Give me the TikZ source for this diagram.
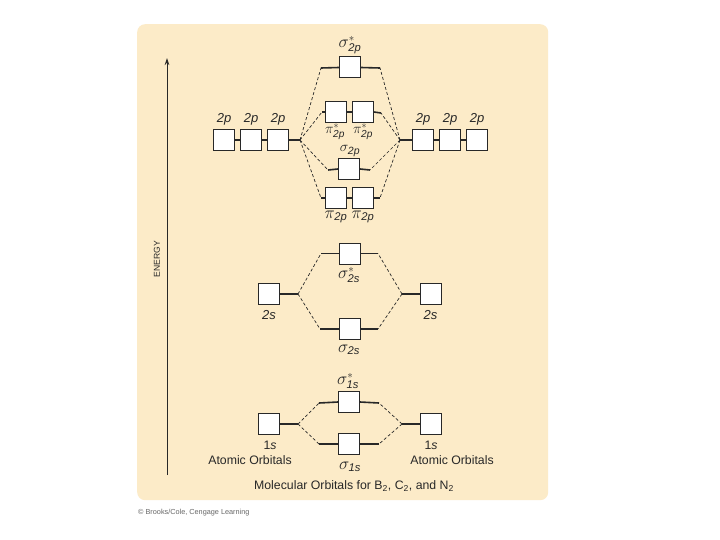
\documentclass[tikz,border=0pt]{standalone}
\usepackage{fontspec}
\usepackage{amsmath}
\setmainfont{Liberation Sans}
\usetikzlibrary{arrows.meta}
\definecolor{panel}{RGB}{252,235,200}
\definecolor{ink}{RGB}{40,40,40}
\newcommand{\sps}[1]{\text{\itshape #1}}
\begin{document}
\begin{tikzpicture}[x=1pt,y=-1pt,
  obox/.style={draw=ink, fill=white, line width=1pt, minimum size=21pt, inner sep=0pt},
  lvl/.style={draw=ink, line width=1.6pt},
  dsh/.style={draw=ink, line width=0.7pt, dash pattern=on 3pt off 2.2pt},
  lbl/.style={font=\fontsize{13}{14}\selectfont\itshape, text=ink, inner sep=0pt},
  mo/.style={font=\fontsize{16}{17}\selectfont, text=ink, inner sep=0pt},
  txt/.style={font=\fontsize{12.3}{13}\selectfont, text=ink, inner sep=0pt}]
\useasboundingbox (0,0) rectangle (720,540);
\fill[white] (0,0) rectangle (720,540);
\node[fill=panel, rounded corners=8pt, minimum width=411pt, minimum height=476pt, inner sep=0pt, anchor=north west] (panel) at (137,24) {};

% energy axis
\coordinate (abot) at (167,475);
\coordinate (atop) at (167,58);
\draw[ink, line width=0.8pt, -{Stealth[length=7pt,width=4.5pt]}] (abot) -- (atop);
\node[font=\fontsize{8.6}{9}\selectfont, text=ink, rotate=90, inner sep=0pt] (energy) at (157,259) {ENERGY};

% ---------- 2p ----------
\node[obox] (L2a) at (224,140) {};
\node[obox] (L2b) at (251,140) {};
\node[obox] (L2c) at (278,140) {};
\node[obox] (R2a) at (423,140) {};
\node[obox] (R2b) at (450,140) {};
\node[obox] (R2c) at (477,140) {};
\draw[lvl, line width=1.1pt] (L2a) -- (L2b) (L2b) -- (L2c) (R2a) -- (R2b) (R2b) -- (R2c);
\coordinate (cL2) at (300,140);
\coordinate (cR2) at (400,140);
\draw[lvl] (L2c.east) -- (cL2);
\draw[lvl] (R2a.west) -- (cR2);
\foreach \n/\x in {L2a/224,L2b/251,L2c/278,R2a/423,R2b/450,R2c/477}
  \node[lbl] (t\n) at (\x,119) {2p};

% sigma* 2p
\node[obox] (Ss2p) at (350,67.5) {};
\coordinate (Ss2pL) at (321,68);
\coordinate (Ss2pR) at (380,68);
\draw[lvl] (Ss2pL) -- (Ss2p.west) (Ss2p.east) -- (Ss2pR);
\node[mo] (lSs2p) at (350,45) {$\sigma^{*}_{\sps{2p}}$};

% pi* 2p
\node[obox] (Ps1) at (336,112) {};
\node[obox] (Ps2) at (363,112) {};
\coordinate (Ps2pL) at (322,112);
\coordinate (Ps2pR) at (381,113);
\draw[lvl] (Ps2pL) -- (Ps1.west) (Ps1.east) -- (Ps2.west) (Ps2.east) -- (Ps2pR);
\node[mo, font=\fontsize{14.5}{15}\selectfont] (lPs1) at (335,131.5) {$\pi^{*}_{\sps{2p}}$};
\node[mo, font=\fontsize{14.5}{15}\selectfont] (lPs2) at (363,131.5) {$\pi^{*}_{\sps{2p}}$};

% sigma 2p
\node[obox] (S2p) at (349,169) {};
\coordinate (S2pL) at (328,170);
\coordinate (S2pR) at (370,170);
\draw[lvl] (S2pL) -- (S2p.west) (S2p.east) -- (S2pR);
\node[mo, font=\fontsize{15}{16}\selectfont] (lS2p) at (350,151) {$\sigma_{\sps{2p}}$};

% pi 2p
\node[obox] (P1) at (336,198) {};
\node[obox] (P2) at (362.5,198) {};
\coordinate (P2pL) at (321,198);
\coordinate (P2pR) at (380,198);
\draw[lvl] (P2pL) -- (P1.west) (P1.east) -- (P2.west) (P2.east) -- (P2pR);
\node[mo] (lP1) at (336,217) {$\pi_{\sps{2p}}$};
\node[mo] (lP2) at (363,217) {$\pi_{\sps{2p}}$};

\draw[dsh] (cL2) -- (Ss2pL) (cL2) -- (Ps2pL) (cL2) -- (S2pL) (cL2) -- (P2pL);
\draw[dsh] (cR2) -- (Ss2pR) (cR2) -- (Ps2pR) (cR2) -- (S2pR) (cR2) -- (P2pR);

% ---------- 2s ----------
\node[obox] (L2s) at (269,294) {};
\node[obox] (R2s) at (430.5,294) {};
\coordinate (cL2s) at (298,294);
\coordinate (cR2s) at (402,294);
\draw[lvl] (L2s.east) -- (cL2s) (R2s.west) -- (cR2s);
\node[lbl] (tL2s) at (269,315) {2s};
\node[lbl] (tR2s) at (430.5,315) {2s};

\node[obox] (Ss2s) at (350,253.5) {};
\coordinate (Ss2sL) at (321,253.5);
\coordinate (Ss2sR) at (378,253.5);
\draw[lvl] (Ss2sL) -- (Ss2s.west) (Ss2s.east) -- (Ss2sR);
\node[mo] (lSs2s) at (349,275) {$\sigma^{*}_{\sps{2s}}$};

\node[obox] (S2s) at (350,329) {};
\coordinate (S2sL) at (320,329);
\coordinate (S2sR) at (378,329);
\draw[lvl] (S2sL) -- (S2s.west) (S2s.east) -- (S2sR);
\node[mo] (lS2s) at (349,350) {$\sigma_{\sps{2s}}$};

\draw[dsh] (cL2s) -- (Ss2sL) (cL2s) -- (S2sL) (cR2s) -- (Ss2sR) (cR2s) -- (S2sR);

% ---------- 1s ----------
\node[obox] (L1s) at (269,424) {};
\node[obox] (R1s) at (430.5,424) {};
\coordinate (cL1s) at (298,424);
\coordinate (cR1s) at (402,424);
\draw[lvl] (L1s.east) -- (cL1s) (R1s.west) -- (cR1s);

\node[obox] (Ss1s) at (349,402) {};
\coordinate (Ss1sL) at (319,403);
\coordinate (Ss1sR) at (379,403);
\draw[lvl] (Ss1sL) -- (Ss1s.west) (Ss1s.east) -- (Ss1sR);
\node[mo] (lSs1s) at (348,381) {$\sigma^{*}_{\sps{1s}}$};

\node[obox] (S1s) at (349,444) {};
\coordinate (S1sL) at (319,444);
\coordinate (S1sR) at (379,444);
\draw[lvl] (S1sL) -- (S1s.west) (S1s.east) -- (S1sR);
\node[mo] (lS1s) at (350,467) {$\sigma_{\sps{1s}}$};

\draw[dsh] (cL1s) -- (Ss1sL) (cL1s) -- (S1sL) (cR1s) -- (Ss1sR) (cR1s) -- (S1sR);

\node[txt] (tL1s) at (270,445) {1\textit{s}};
\node[txt] (tR1s) at (431,445) {1\textit{s}};
\node[txt] (aoL) at (250,460) {Atomic Orbitals};
\node[txt] (aoR) at (452,460) {Atomic Orbitals};
\node[txt] (title) at (354,486) {Molecular Orbitals for B\textsubscript{2}, C\textsubscript{2}, and N\textsubscript{2}};

\node[font=\fontsize{7.3}{8}\selectfont, text=black!60, inner sep=0pt, anchor=west] (copy) at (138,513) {© Brooks/Cole, Cengage Learning};
\end{tikzpicture}
\end{document}
